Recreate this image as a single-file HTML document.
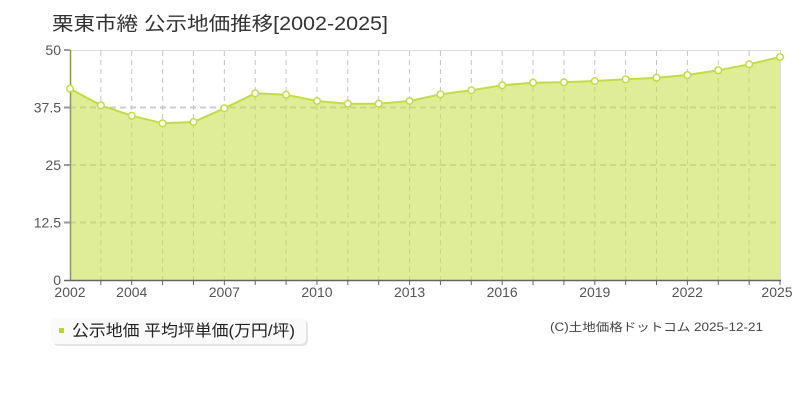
<!DOCTYPE html>
<html><head><meta charset="utf-8">
<style>
html,body{margin:0;padding:0;background:#fff;}
svg{display:block;}
</style></head>
<body>
<svg width="800" height="400" viewBox="0 0 800 400" xmlns="http://www.w3.org/2000/svg">
<rect x="0" y="0" width="800" height="400" fill="#fff"/>
<text x="52" y="30" font-family="'Liberation Sans','Noto Sans CJK JP',sans-serif" font-size="19" fill="#333" textLength="336" lengthAdjust="spacingAndGlyphs">栗東市綣 公示地価推移[2002-2025]</text>

<!-- plot frame -->
<line x1="70" y1="50.5" x2="780" y2="50.5" stroke="#dddddd" stroke-width="1"/>
<line x1="780.5" y1="50" x2="780.5" y2="280" stroke="#dddddd" stroke-width="1"/>

<!-- horizontal grid -->
<g stroke="#cccccc" stroke-width="2" stroke-dasharray="6,4">
<line x1="70" y1="107.5" x2="780" y2="107.5"/>
<line x1="70" y1="165" x2="780" y2="165"/>
<line x1="70" y1="222.5" x2="780" y2="222.5"/>
</g>
<!-- vertical grid -->
<g stroke="#c4c4c4" stroke-width="1" stroke-dasharray="5,4">
<line x1="100.87" y1="51" x2="100.87" y2="280"/>
<line x1="131.74" y1="51" x2="131.74" y2="280"/>
<line x1="162.61" y1="51" x2="162.61" y2="280"/>
<line x1="193.48" y1="51" x2="193.48" y2="280"/>
<line x1="224.35" y1="51" x2="224.35" y2="280"/>
<line x1="255.22" y1="51" x2="255.22" y2="280"/>
<line x1="286.09" y1="51" x2="286.09" y2="280"/>
<line x1="316.96" y1="51" x2="316.96" y2="280"/>
<line x1="347.83" y1="51" x2="347.83" y2="280"/>
<line x1="378.70" y1="51" x2="378.70" y2="280"/>
<line x1="409.57" y1="51" x2="409.57" y2="280"/>
<line x1="440.43" y1="51" x2="440.43" y2="280"/>
<line x1="471.30" y1="51" x2="471.30" y2="280"/>
<line x1="502.17" y1="51" x2="502.17" y2="280"/>
<line x1="533.04" y1="51" x2="533.04" y2="280"/>
<line x1="563.91" y1="51" x2="563.91" y2="280"/>
<line x1="594.78" y1="51" x2="594.78" y2="280"/>
<line x1="625.65" y1="51" x2="625.65" y2="280"/>
<line x1="656.52" y1="51" x2="656.52" y2="280"/>
<line x1="687.39" y1="51" x2="687.39" y2="280"/>
<line x1="718.26" y1="51" x2="718.26" y2="280"/>
<line x1="749.13" y1="51" x2="749.13" y2="280"/>
</g>

<!-- area -->
<polygon fill="rgb(200,225,80)" fill-opacity="0.6" points="70,280 70,88.7 100.87,105.3 131.74,115.7 162.61,123.3 193.48,122 224.35,108.3 255.22,93.3 286.09,94.7 316.96,101 347.83,103.7 378.70,103.7 409.57,101 440.43,94.3 471.30,90.3 502.17,85.3 533.04,82.7 563.91,82.3 594.78,81 625.65,79.3 656.52,77.7 687.39,75 718.26,70.3 749.13,64.3 780,57 780,280"/>
<polyline fill="none" stroke="#c2dc48" stroke-width="2" points="70,88.7 100.87,105.3 131.74,115.7 162.61,123.3 193.48,122 224.35,108.3 255.22,93.3 286.09,94.7 316.96,101 347.83,103.7 378.70,103.7 409.57,101 440.43,94.3 471.30,90.3 502.17,85.3 533.04,82.7 563.91,82.3 594.78,81 625.65,79.3 656.52,77.7 687.39,75 718.26,70.3 749.13,64.3 780,57"/>

<!-- axes -->
<line x1="70.5" y1="50" x2="70.5" y2="280" stroke="#8a9a48" stroke-width="1.5"/>
<line x1="64" y1="280.5" x2="781" y2="280.5" stroke="#666" stroke-width="1.5"/>
<g stroke="#999" stroke-width="2">
<line x1="64" y1="50" x2="70" y2="50"/>
<line x1="64" y1="107.5" x2="70" y2="107.5"/>
<line x1="64" y1="165" x2="70" y2="165"/>
<line x1="64" y1="222.5" x2="70" y2="222.5"/>
</g>
<g stroke="#666" stroke-width="1">
<line x1="100.87" y1="280" x2="100.87" y2="285"/>
<line x1="131.74" y1="280" x2="131.74" y2="285"/>
<line x1="162.61" y1="280" x2="162.61" y2="285"/>
<line x1="193.48" y1="280" x2="193.48" y2="285"/>
<line x1="224.35" y1="280" x2="224.35" y2="285"/>
<line x1="255.22" y1="280" x2="255.22" y2="285"/>
<line x1="286.09" y1="280" x2="286.09" y2="285"/>
<line x1="316.96" y1="280" x2="316.96" y2="285"/>
<line x1="347.83" y1="280" x2="347.83" y2="285"/>
<line x1="378.70" y1="280" x2="378.70" y2="285"/>
<line x1="409.57" y1="280" x2="409.57" y2="285"/>
<line x1="440.43" y1="280" x2="440.43" y2="285"/>
<line x1="471.30" y1="280" x2="471.30" y2="285"/>
<line x1="502.17" y1="280" x2="502.17" y2="285"/>
<line x1="533.04" y1="280" x2="533.04" y2="285"/>
<line x1="563.91" y1="280" x2="563.91" y2="285"/>
<line x1="594.78" y1="280" x2="594.78" y2="285"/>
<line x1="625.65" y1="280" x2="625.65" y2="285"/>
<line x1="656.52" y1="280" x2="656.52" y2="285"/>
<line x1="687.39" y1="280" x2="687.39" y2="285"/>
<line x1="718.26" y1="280" x2="718.26" y2="285"/>
<line x1="749.13" y1="280" x2="749.13" y2="285"/>
<line x1="780" y1="280" x2="780" y2="285"/>
</g>

<!-- points -->
<g fill="#fff" stroke="#c2dc48" stroke-width="1.5">
<circle cx="70" cy="88.7" r="3.3"/>
<circle cx="100.87" cy="105.3" r="3.3"/>
<circle cx="131.74" cy="115.7" r="3.3"/>
<circle cx="162.61" cy="123.3" r="3.3"/>
<circle cx="193.48" cy="122" r="3.3"/>
<circle cx="224.35" cy="108.3" r="3.3"/>
<circle cx="255.22" cy="93.3" r="3.3"/>
<circle cx="286.09" cy="94.7" r="3.3"/>
<circle cx="316.96" cy="101" r="3.3"/>
<circle cx="347.83" cy="103.7" r="3.3"/>
<circle cx="378.70" cy="103.7" r="3.3"/>
<circle cx="409.57" cy="101" r="3.3"/>
<circle cx="440.43" cy="94.3" r="3.3"/>
<circle cx="471.30" cy="90.3" r="3.3"/>
<circle cx="502.17" cy="85.3" r="3.3"/>
<circle cx="533.04" cy="82.7" r="3.3"/>
<circle cx="563.91" cy="82.3" r="3.3"/>
<circle cx="594.78" cy="81" r="3.3"/>
<circle cx="625.65" cy="79.3" r="3.3"/>
<circle cx="656.52" cy="77.7" r="3.3"/>
<circle cx="687.39" cy="75" r="3.3"/>
<circle cx="718.26" cy="70.3" r="3.3"/>
<circle cx="749.13" cy="64.3" r="3.3"/>
<circle cx="780" cy="57" r="3.3"/>
</g>

<!-- y labels -->
<g font-family="'Liberation Sans',sans-serif" font-size="14" fill="#555" text-anchor="end">
<text x="61" y="55">50</text>
<text x="61" y="112.5">37.5</text>
<text x="61" y="170">25</text>
<text x="61" y="227.5">12.5</text>
<text x="61" y="285">0</text>
</g>
<!-- x labels -->
<g font-family="'Liberation Sans',sans-serif" font-size="14" fill="#555" text-anchor="middle">
<text x="70" y="297">2002</text>
<text x="131.74" y="297">2004</text>
<text x="224.35" y="297">2007</text>
<text x="316.96" y="297">2010</text>
<text x="409.57" y="297">2013</text>
<text x="502.17" y="297">2016</text>
<text x="594.78" y="297">2019</text>
<text x="687.39" y="297">2022</text>
<text x="777" y="297">2025</text>
</g>

<!-- legend -->
<rect x="53" y="320" width="255" height="26" rx="5" ry="5" fill="#e4e4e4"/>
<rect x="51" y="318" width="255" height="26" rx="5" ry="5" fill="#fafafa"/>
<rect x="59" y="328" width="5" height="5" fill="#b8d828"/>
<text x="72" y="336" font-family="'Liberation Sans','Noto Sans CJK JP',sans-serif" font-size="16" fill="#222" textLength="223" lengthAdjust="spacingAndGlyphs">公示地価 平均坪単価(万円/坪)</text>

<!-- copyright -->
<text x="550" y="331" font-family="'Liberation Sans','Noto Sans CJK JP',sans-serif" font-size="11.5" fill="#444" textLength="213" lengthAdjust="spacingAndGlyphs">(C)土地価格ドットコム 2025-12-21</text>
</svg>
</body></html>
